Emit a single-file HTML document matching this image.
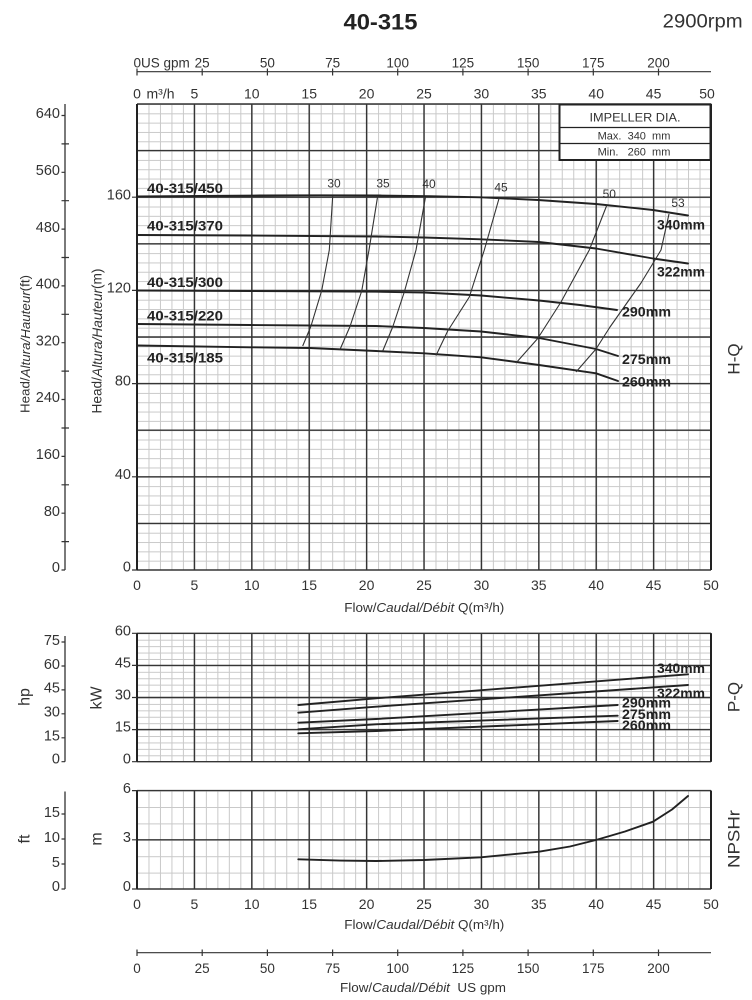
<!DOCTYPE html>
<html>
<head>
<meta charset="utf-8">
<style>
  html,body{margin:0;padding:0;background:#fff;}
  svg{display:block;}
  text{font-family:"Liberation Sans",Arial,sans-serif;fill:#333;}
  .b{font-weight:bold;fill:#222;}
  .it{font-style:italic;}
</style>
</head>
<body>
<svg width="752" height="1000" viewBox="0 0 752 1000" xmlns="http://www.w3.org/2000/svg">
  <defs>
    <pattern id="pm" x="137" y="104" width="11.48" height="9.32" patternUnits="userSpaceOnUse">
      <path d="M0.5 0V9.32M0 0.5H11.48" stroke="#c9c9c9" stroke-width="1" fill="none"/>
    </pattern>
    <pattern id="pp" x="137" y="633.3" width="11.48" height="6.42" patternUnits="userSpaceOnUse">
      <path d="M0.5 0V6.42M0 0.5H11.48" stroke="#c9c9c9" stroke-width="1" fill="none"/>
    </pattern>
    <pattern id="pn" x="137" y="790.6" width="11.48" height="16.4" patternUnits="userSpaceOnUse">
      <path d="M0.5 0V16.4M0 0.5H11.48" stroke="#c9c9c9" stroke-width="1" fill="none"/>
    </pattern>
  </defs>

  <!-- Title -->
  <text x="343.5" y="29.3" font-size="22" class="b" textLength="74" lengthAdjust="spacingAndGlyphs">40-315</text>
  <text x="662.7" y="27.5" font-size="19" textLength="80" lengthAdjust="spacingAndGlyphs">2900rpm</text>

  <!-- Top gpm axis -->
  <path d="M137 71.7H711" stroke="#333" stroke-width="1.2" fill="none"/>
  <path d="M137 68.5V75.5M202.2 68.5V75.5M267.4 68.5V75.5M332.6 68.5V75.5M397.7 68.5V75.5M462.9 68.5V75.5M528.1 68.5V75.5M593.3 68.5V75.5M658.5 68.5V75.5" stroke="#333" stroke-width="1.2" fill="none"/>
  <g font-size="13.5" text-anchor="middle">
    <text x="202.2" y="67.5">25</text>
    <text x="267.4" y="67.5">50</text>
    <text x="332.6" y="67.5">75</text>
    <text x="397.7" y="67.5">100</text>
    <text x="462.9" y="67.5">125</text>
    <text x="528.1" y="67.5">150</text>
    <text x="593.3" y="67.5">175</text>
    <text x="658.5" y="67.5">200</text>
  </g>
  <text x="133.5" y="67.5" font-size="13.5">0US gpm</text>

  <!-- top m3/h labels -->
  <g font-size="14" text-anchor="middle">
    <text x="137" y="98.5">0</text>
    <text x="194.4" y="98.5">5</text>
    <text x="251.8" y="98.5">10</text>
    <text x="309.2" y="98.5">15</text>
    <text x="366.6" y="98.5">20</text>
    <text x="424" y="98.5">25</text>
    <text x="481.4" y="98.5">30</text>
    <text x="538.8" y="98.5">35</text>
    <text x="596.2" y="98.5">40</text>
    <text x="653.6" y="98.5">45</text>
    <text x="707" y="98.5">50</text>
  </g>
  <text x="146.5" y="98.5" font-size="14">m³/h</text>

  <!-- ===== Main H-Q chart ===== -->
  <rect x="137" y="104" width="574" height="466" fill="url(#pm)"/>
  <path d="M137 104V570M194.4 104V570M251.8 104V570M309.2 104V570M366.6 104V570M424 104V570M481.4 104V570M538.8 104V570M596.2 104V570M653.6 104V570M711 104V570
           M137 104H711M137 150.6H711M137 197.2H711M137 243.8H711M137 290.4H711M137 337H711M137 383.6H711M137 430.2H711M137 476.8H711M137 523.4H711M137 570H711"
        stroke="#353535" stroke-width="1.4" fill="none"/>
  <path d="M137 104V570M711 104V570" stroke="#222" stroke-width="2" fill="none"/>

  <!-- m axis labels -->
  <path d="M132 197.2H137M132 290.4H137M132 383.6H137M132 476.8H137M132 570H137" stroke="#333" stroke-width="1.2"/>
  <g font-size="14.5" text-anchor="end">
    <text x="131" y="199.5">160</text>
    <text x="131" y="292.5">120</text>
    <text x="131" y="385.5">80</text>
    <text x="131" y="478.8">40</text>
    <text x="131" y="571.5">0</text>
  </g>

  <!-- ft axis -->
  <path d="M65 104V570" stroke="#333" stroke-width="1.3"/>
  <path d="M61.5 115.5H65M61.5 172.3H65M61.5 229.1H65M61.5 285.9H65M61.5 342.7H65M61.5 399.5H65M61.5 456.4H65M61.5 513.2H65M61.5 570H65
           M61.5 143.9H69M61.5 200.7H69M61.5 257.5H69M61.5 314.3H69M61.5 371.1H69M61.5 428H69M61.5 484.8H69M61.5 541.6H69" stroke="#333" stroke-width="1.2"/>
  <g font-size="14.5" text-anchor="end">
    <text x="60" y="118">640</text>
    <text x="60" y="175">560</text>
    <text x="60" y="232">480</text>
    <text x="60" y="288.5">400</text>
    <text x="60" y="345.5">320</text>
    <text x="60" y="402">240</text>
    <text x="60" y="459">160</text>
    <text x="60" y="516">80</text>
    <text x="60" y="572">0</text>
  </g>

  <!-- rotated axis titles -->
  <text transform="translate(25,344) rotate(-90)" text-anchor="middle" dominant-baseline="central" font-size="13.3" fill="#444" textLength="138" lengthAdjust="spacingAndGlyphs">Head/<tspan class="it">Altura/Hauteur</tspan>(ft)</text>
  <text transform="translate(97,341) rotate(-90)" text-anchor="middle" dominant-baseline="central" font-size="13.5" fill="#444" textLength="145" lengthAdjust="spacingAndGlyphs">Head/<tspan class="it">Altura/Hauteur</tspan>(m)</text>
  <text transform="translate(734,359) rotate(-90)" text-anchor="middle" dominant-baseline="central" font-size="17" fill="#333">H-Q</text>

  <!-- H-Q curves -->
  <g stroke="#222" stroke-width="1.9" fill="none" stroke-linejoin="round" stroke-linecap="round">
    <polyline points="137,196.5 200,196 260,195.5 320,195.3 380,195.5 430,196.2 481,197.3 538,200 596,204 653,210 688,215.5"/>
    <polyline points="137,235 250,235.5 376,236.5 424,237.5 481,239.3 539,242 596,248.5 653,258.5 688,263.5"/>
    <polyline points="137,290.5 250,291 376,291.7 424,292.5 481,295.5 539,300.5 580,305 617,310"/>
    <polyline points="137,324 250,325 376,326 424,328 481,331.5 539,338 596,349 618,356"/>
    <polyline points="137,345.5 250,347.3 310,348 376,351 424,353.3 481,357.3 539,365 596,373.3 618,381"/>
  </g>
  <!-- efficiency curves -->
  <g stroke="#333" stroke-width="1.1" fill="none" stroke-linejoin="round">
    <polyline points="332.7,196 329.3,250 321.7,290.5 311,326 302.7,346"/>
    <polyline points="377.7,196 369,250 361.7,291 350,326.5 340,349.5"/>
    <polyline points="425.5,197 416,250 404.3,292 392.7,327 382.7,351"/>
    <polyline points="499.3,197.5 484.3,250 469.3,297 447.7,331 436,355.5"/>
    <polyline points="606.7,205.5 589.3,250 561,302 537.7,338.5 516,363"/>
    <polyline points="669,214 661,250 655,260 641,283 629,300 610,327 596,349 576,372"/>
  </g>
  <g font-size="12" text-anchor="middle" fill="#333">
    <text x="334" y="187.5">30</text>
    <text x="383" y="187.5">35</text>
    <text x="429" y="188">40</text>
    <text x="501" y="191.5">45</text>
    <text x="609.3" y="198">50</text>
    <text x="678" y="207">53</text>
  </g>

  <!-- curve labels -->
  <g font-size="14" class="b">
    <text x="657" y="229.5" class="b" textLength="48" lengthAdjust="spacingAndGlyphs">340mm</text>
    <text x="657" y="276.5" class="b" textLength="48" lengthAdjust="spacingAndGlyphs">322mm</text>
    <text x="622" y="316.5" class="b" textLength="49" lengthAdjust="spacingAndGlyphs">290mm</text>
    <text x="622" y="364" class="b" textLength="49" lengthAdjust="spacingAndGlyphs">275mm</text>
    <text x="622" y="386.5" class="b" textLength="49" lengthAdjust="spacingAndGlyphs">260mm</text>
    <text x="147" y="193" class="b" textLength="76" lengthAdjust="spacingAndGlyphs">40-315/450</text>
    <text x="147" y="230.5" class="b" textLength="76" lengthAdjust="spacingAndGlyphs">40-315/370</text>
    <text x="147" y="287" class="b" textLength="76" lengthAdjust="spacingAndGlyphs">40-315/300</text>
    <text x="147" y="320.5" class="b" textLength="76" lengthAdjust="spacingAndGlyphs">40-315/220</text>
    <text x="147" y="362.5" class="b" textLength="76" lengthAdjust="spacingAndGlyphs">40-315/185</text>
  </g>

  <!-- Impeller box -->
  <rect x="559.5" y="104.5" width="151" height="55.5" fill="#fff" stroke="#222" stroke-width="2"/>
  <path d="M559.5 127.5H710.5M559.5 143.5H710.5" stroke="#222" stroke-width="1.3"/>
  <text x="635" y="121.3" font-size="12" text-anchor="middle" textLength="91" lengthAdjust="spacingAndGlyphs">IMPELLER DIA.</text>
  <text x="634" y="139.5" font-size="11" text-anchor="middle" xml:space="preserve">Max.  340  mm</text>
  <text x="634" y="155.3" font-size="11" text-anchor="middle" xml:space="preserve">Min.   260  mm</text>

  <!-- bottom labels main -->
  <g font-size="14" text-anchor="middle">
    <text x="137" y="590">0</text>
    <text x="194.4" y="590">5</text>
    <text x="251.8" y="590">10</text>
    <text x="309.2" y="590">15</text>
    <text x="366.6" y="590">20</text>
    <text x="424" y="590">25</text>
    <text x="481.4" y="590">30</text>
    <text x="538.8" y="590">35</text>
    <text x="596.2" y="590">40</text>
    <text x="653.6" y="590">45</text>
    <text x="711" y="590">50</text>
  </g>
  <text x="344.3" y="612" font-size="13" fill="#444" textLength="160" lengthAdjust="spacingAndGlyphs">Flow/<tspan class="it">Caudal/Débit</tspan> Q(m³/h)</text>

  <!-- ===== P-Q chart ===== -->
  <rect x="137" y="633.3" width="574" height="128.4" fill="url(#pp)"/>
  <path d="M137 633.3V761.7M194.4 633.3V761.7M251.8 633.3V761.7M309.2 633.3V761.7M366.6 633.3V761.7M424 633.3V761.7M481.4 633.3V761.7M538.8 633.3V761.7M596.2 633.3V761.7M653.6 633.3V761.7M711 633.3V761.7
           M137 633.3H711M137 665.4H711M137 697.5H711M137 729.6H711M137 761.7H711"
        stroke="#353535" stroke-width="1.4" fill="none"/>
  <path d="M137 633.3V761.7M711 633.3V761.7" stroke="#222" stroke-width="2" fill="none"/>
  <path d="M132 633.3H137M132 665.4H137M132 697.5H137M132 729.6H137M132 761.7H137" stroke="#333" stroke-width="1.2"/>
  <g font-size="14.5" text-anchor="end">
    <text x="131" y="635.5">60</text>
    <text x="131" y="667.5">45</text>
    <text x="131" y="699.5">30</text>
    <text x="131" y="731.5">15</text>
    <text x="131" y="763.5">0</text>
  </g>
  <path d="M65 636V761.7" stroke="#333" stroke-width="1.3"/>
  <path d="M61.5 642H65M61.5 666H65M61.5 689.9H65M61.5 713.8H65M61.5 737.8H65M61.5 761.7H65" stroke="#333" stroke-width="1.2"/>
  <g font-size="14.5" text-anchor="end">
    <text x="60" y="645">75</text>
    <text x="60" y="669">60</text>
    <text x="60" y="692.5">45</text>
    <text x="60" y="716.5">30</text>
    <text x="60" y="740.5">15</text>
    <text x="60" y="763.5">0</text>
  </g>
  <text transform="translate(25,697) rotate(-90)" text-anchor="middle" dominant-baseline="central" font-size="16" fill="#444">hp</text>
  <text transform="translate(97,698) rotate(-90)" text-anchor="middle" dominant-baseline="central" font-size="16" fill="#444">kW</text>
  <text transform="translate(734,697) rotate(-90)" text-anchor="middle" dominant-baseline="central" font-size="17" fill="#333">P-Q</text>

  <g stroke="#222" stroke-width="1.9" fill="none" stroke-linejoin="round" stroke-linecap="round">
    <polyline points="298.3,705 376,698.3 688,674.3"/>
    <polyline points="298.3,712.7 376,706.7 688,685"/>
    <polyline points="298.3,722.7 376,719 617.7,705"/>
    <polyline points="298.3,729.3 376,724.3 617.7,715.7"/>
    <polyline points="298.3,733.3 376,731 617.7,721"/>
  </g>
  <g font-size="13.5">
    <text x="657" y="673" class="b" textLength="48" lengthAdjust="spacingAndGlyphs">340mm</text>
    <text x="657" y="698" class="b" textLength="48" lengthAdjust="spacingAndGlyphs">322mm</text>
    <text x="622" y="707.5" class="b" textLength="49" lengthAdjust="spacingAndGlyphs">290mm</text>
    <text x="622" y="719" class="b" textLength="49" lengthAdjust="spacingAndGlyphs">275mm</text>
    <text x="622" y="730" class="b" textLength="49" lengthAdjust="spacingAndGlyphs">260mm</text>
  </g>

  <!-- ===== NPSH chart ===== -->
  <rect x="137" y="790.6" width="574" height="98.4" fill="url(#pn)"/>
  <path d="M137 790.6V889M194.4 790.6V889M251.8 790.6V889M309.2 790.6V889M366.6 790.6V889M424 790.6V889M481.4 790.6V889M538.8 790.6V889M596.2 790.6V889M653.6 790.6V889M711 790.6V889
           M137 790.6H711M137 839.8H711M137 889H711"
        stroke="#353535" stroke-width="1.4" fill="none"/>
  <path d="M137 790.6V889M711 790.6V889" stroke="#222" stroke-width="2" fill="none"/>
  <path d="M132 790.6H137M132 839.8H137M132 889H137" stroke="#333" stroke-width="1.2"/>
  <g font-size="14.5" text-anchor="end">
    <text x="131" y="793">6</text>
    <text x="131" y="842">3</text>
    <text x="131" y="891">0</text>
  </g>
  <path d="M65 791.5V889" stroke="#333" stroke-width="1.3"/>
  <path d="M61.5 814H65M61.5 839H65M61.5 864H65M61.5 889H65" stroke="#333" stroke-width="1.2"/>
  <g font-size="14.5" text-anchor="end">
    <text x="60" y="817">15</text>
    <text x="60" y="842">10</text>
    <text x="60" y="867">5</text>
    <text x="60" y="891">0</text>
  </g>
  <text transform="translate(25,839) rotate(-90)" text-anchor="middle" dominant-baseline="central" font-size="16" fill="#444">ft</text>
  <text transform="translate(97,839) rotate(-90)" text-anchor="middle" dominant-baseline="central" font-size="16" fill="#444">m</text>
  <text transform="translate(734,839) rotate(-90)" text-anchor="middle" dominant-baseline="central" font-size="17" fill="#333" textLength="58" lengthAdjust="spacingAndGlyphs">NPSHr</text>

  <polyline points="298.3,859.3 340,860.6 376,861 424,860 481,857.3 539,851.7 570,846.5 596,840 625,831.5 653,821.7 672,809.5 688,796" stroke="#222" stroke-width="1.9" fill="none" stroke-linejoin="round" stroke-linecap="round"/>

  <g font-size="14" text-anchor="middle">
    <text x="137" y="909">0</text>
    <text x="194.4" y="909">5</text>
    <text x="251.8" y="909">10</text>
    <text x="309.2" y="909">15</text>
    <text x="366.6" y="909">20</text>
    <text x="424" y="909">25</text>
    <text x="481.4" y="909">30</text>
    <text x="538.8" y="909">35</text>
    <text x="596.2" y="909">40</text>
    <text x="653.6" y="909">45</text>
    <text x="711" y="909">50</text>
  </g>
  <text x="344.3" y="929" font-size="13" fill="#444" textLength="160" lengthAdjust="spacingAndGlyphs">Flow/<tspan class="it">Caudal/Débit</tspan> Q(m³/h)</text>

  <!-- Bottom gpm axis -->
  <path d="M137 952.7H711" stroke="#333" stroke-width="1.2" fill="none"/>
  <path d="M137 949.5V956M202.2 949.5V956M267.4 949.5V956M332.6 949.5V956M397.7 949.5V956M462.9 949.5V956M528.1 949.5V956M593.3 949.5V956M658.5 949.5V956" stroke="#333" stroke-width="1.2" fill="none"/>
  <g font-size="13.5" text-anchor="middle">
    <text x="137" y="973">0</text>
    <text x="202.2" y="973">25</text>
    <text x="267.4" y="973">50</text>
    <text x="332.6" y="973">75</text>
    <text x="397.7" y="973">100</text>
    <text x="462.9" y="973">125</text>
    <text x="528.1" y="973">150</text>
    <text x="593.3" y="973">175</text>
    <text x="658.5" y="973">200</text>
  </g>
  <text x="340" y="992" font-size="13" fill="#444" textLength="166" lengthAdjust="spacingAndGlyphs" xml:space="preserve">Flow/<tspan class="it">Caudal/Débit</tspan>  US gpm</text>
</svg>
</body>
</html>
